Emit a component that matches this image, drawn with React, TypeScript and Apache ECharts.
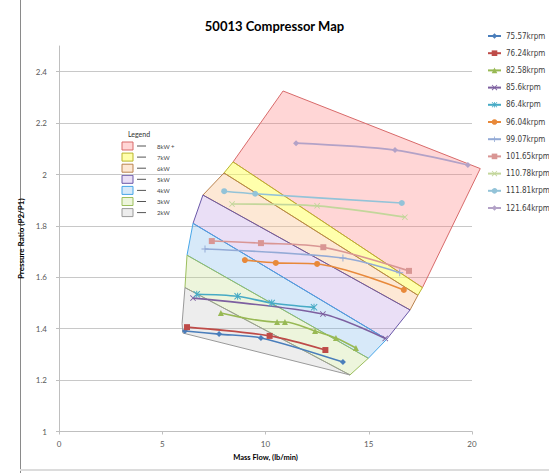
import React, { useEffect, useRef } from "react";
import * as echarts from "echarts";

// ---- Data ----
const seriesNames = [
  "75.57krpm", "76.24krpm", "82.58krpm", "85.6krpm", "86.4krpm", "96.04krpm",
  "99.07krpm", "101.65krpm", "110.78krpm", "111.81krpm", "121.64krpm",
];
const rpm75_57 = [[6.1, 1.391], [7.75, 1.379], [9.78, 1.364], [13.75, 1.27]];
const rpm76_24 = [[6.2, 1.406], [10.2, 1.372], [12.9, 1.317]];
const rpm82_58 = [[7.84, 1.461], [10.56, 1.426], [10.94, 1.426], [12.4, 1.391], [13.41, 1.364], [14.38, 1.325]];
const rpm85_6 = [[6.49, 1.519], [12.78, 1.457], [15.8, 1.362]];
const rpm86_4 = [[6.67, 1.534], [8.65, 1.526], [10.3, 1.5], [12.35, 1.483]];
const rpm96_04 = [[9.0, 1.667], [10.5, 1.656], [12.5, 1.652], [16.7, 1.551]];
const rpm99_07 = [[7.07, 1.71], [13.75, 1.675], [16.5, 1.618]];
const rpm101_65 = [[7.4, 1.741], [9.78, 1.733], [12.8, 1.717], [16.95, 1.625]];
const rpm110_78 = [[8.38, 1.885], [12.5, 1.878], [16.75, 1.834]];
const rpm111_81 = [[8.0, 1.935], [9.5, 1.925], [16.6, 1.889]];
const rpm121_64 = [[11.48, 2.122], [16.27, 2.095], [19.8, 2.037]];
const seriesData = [
  rpm75_57, rpm76_24, rpm82_58, rpm85_6, rpm86_4, rpm96_04,
  rpm99_07, rpm101_65, rpm110_78, rpm111_81, rpm121_64,
];

// power bands (polygon vertices in data units)
const bandLabels = ["8kW +", "7kW", "6kW", "5kW", "4kW", "3kW", "2kW"];
const band8 = [[10.85, 2.325], [20.4, 2.023], [17.6, 1.56], [8.43, 2.049]];
const band7 = [[8.43, 2.049], [17.6, 1.56], [17.38, 1.53], [7.99, 2.006]];
const band6 = [[7.99, 2.006], [17.38, 1.53], [17.0, 1.473], [6.97, 1.92]];
const band5 = [[6.97, 1.92], [17.0, 1.473], [15.87, 1.359], [6.49, 1.81]];
const band4 = [[6.49, 1.81], [15.87, 1.359], [14.98, 1.285], [6.2, 1.686]];
const band3 = [[6.2, 1.686], [14.98, 1.285], [14.09, 1.22], [6.1, 1.56]];
const band2 = [[6.1, 1.56], [14.09, 1.22], [6.0, 1.383], [5.96, 1.42]];
const bands = [band8, band7, band6, band5, band4, band3, band2];

// ---- Styles ----
const lineColors = [
  "#4a7ebb", "#be4b48", "#98b954", "#7d60a0", "#46aac5", "#e8893a",
  "#93aad6", "#d99694", "#c3d69b", "#93c3d8", "#b3a2c7",
];
const X_SYM = "path://M0,1L1,0L5,4L9,0L10,1L6,5L10,9L9,10L5,6L1,10L0,9L4,5Z";
const PLUS_SYM = "path://M4.3,0H5.7V4.3H10V5.7H5.7V10H4.3V5.7H0V4.3H4.3Z";
const STAR_SYM =
  "path://M0,1L1,0L5,4L9,0L10,1L6,5L10,9L9,10L5,6L1,10L0,9L4,5Z M4.3,0H5.7V10H4.3Z";
const symbols = [
  "diamond", "rect", "triangle", X_SYM, STAR_SYM, "circle",
  PLUS_SYM, "rect", X_SYM, "circle", "diamond",
];
const symbolSizes = [6, 6, 6, 6, 7, 6, 7, 6, 6, 6, 6];
const bandFills = [
  "rgba(255,120,120,0.30)",
  "rgba(255,255,90,0.50)",
  "rgba(250,195,145,0.38)",
  "rgba(185,150,225,0.30)",
  "rgba(110,175,235,0.28)",
  "rgba(190,220,130,0.28)",
  "rgba(185,185,185,0.25)",
];
const bandStrokes = ["#d86a6a", "#b9b52c", "#b9824e", "#6a58a8", "#47a6e8", "#9cbf5e", "#9a9a9a"];

const FONT = "Lato, 'Open Sans', sans-serif";
const NARROW = "'Liberation Sans Narrow', 'DejaVu Sans Condensed', Lato, sans-serif";

export default function App() {
  const ref = useRef<HTMLDivElement>(null);
  useEffect(() => {
    const chart = echarts.init(ref.current!, null, { renderer: "svg" });

    const bandSeries = bands.map((poly, i) => ({
      type: "custom",
      name: "band" + i,
      data: poly,
      clip: false,
      silent: true,
      z: 1,
      encode: { x: 0, y: 1 },
      renderItem: (params: any, api: any) => {
        if (params.dataIndex !== 0) return null;
        const pts = poly.map((p) => api.coord(p));
        return {
          type: "polygon",
          shape: { points: pts },
          style: { fill: bandFills[i], stroke: bandStrokes[i], lineWidth: 1 },
        };
      },
    }));

    const lineSeries = seriesNames.map((name, i) => ({
      type: "line",
      name,
      data: seriesData[i],
      smooth: 0.3,
      symbol: symbols[i],
      symbolSize: symbolSizes[i],
      showAllSymbol: true,
      z: 5,
      lineStyle: { color: lineColors[i], width: 1.6 },
      itemStyle: { color: lineColors[i] },
    }));

    // inner legend (graphic)
    const legendGraphics: any[] = [
      {
        type: "text",
        left: 128,
        top: 130,
        style: { text: "Legend", fill: "#333", font: `7px ${FONT}` },
      },
    ];
    bandLabels.forEach((lab, i) => {
      const cy = 146 + i * 11.1;
      legendGraphics.push({
        type: "rect",
        shape: { x: 122, y: cy - 4, width: 11, height: 8 },
        style: { fill: bandFills[i], stroke: bandStrokes[i], lineWidth: 1 },
      });
      legendGraphics.push({
        type: "line",
        shape: { x1: 137, y1: cy, x2: 146, y2: cy },
        style: { stroke: "#555", lineWidth: 1 },
      });
      legendGraphics.push({
        type: "text",
        x: 157,
        y: cy,
        style: { text: lab, fill: "#444", font: `6px ${FONT}`, verticalAlign: "middle" },
      });
    });
    // outer frame lines
    legendGraphics.push({
      type: "line",
      shape: { x1: 20.5, y1: 0, x2: 20.5, y2: 473 },
      style: { stroke: "#8a8a8a", lineWidth: 1 },
    });
    legendGraphics.push({
      type: "line",
      shape: { x1: 20, y1: 470, x2: 549, y2: 470 },
      style: { stroke: "#dcdcdc", lineWidth: 2 },
    });

    chart.setOption({
      animation: false,
      textStyle: { fontFamily: FONT },
      title: {
        text: "50013 Compressor Map",
        left: "center",
        top: 14,
        textStyle: { fontSize: 13, fontWeight: "bold", color: "#000", fontFamily: FONT },
      },
      legend: {
        data: seriesNames,
        orient: "vertical",
        left: 487,
        top: 31,
        itemWidth: 13,
        itemHeight: 7,
        itemGap: 7.2,
        padding: 0,
        textStyle: {
          fontSize: 8,
          color: "#404040",
          lineHeight: 10,
          fontFamily: NARROW,
        },
      },
      grid: { left: 59, right: 77, top: 46, bottom: 41.5 },
      xAxis: {
        type: "value",
        min: 0,
        max: 20,
        interval: 5,
        name: "Mass Flow, (lb/min)",
        nameLocation: "middle",
        nameGap: 22,
        nameTextStyle: { fontSize: 7.5, fontWeight: "bold", color: "#000" },
        axisLine: { lineStyle: { color: "#bfbfbf" } },
        axisTick: { show: true, length: 3, lineStyle: { color: "#bfbfbf" } },
        axisLabel: { fontSize: 8, color: "#595959", margin: 8 },
        splitLine: { show: false },
      },
      yAxis: {
        type: "value",
        min: 1,
        max: 2.5,
        interval: 0.2,
        name: "Pressure Ratio (P2/P1)",
        nameLocation: "middle",
        nameGap: 20,
        nameTextStyle: { fontSize: 8, fontWeight: "bold", color: "#000" },
        axisLine: { show: true, lineStyle: { color: "#bfbfbf" } },
        axisTick: { show: true, length: 3, lineStyle: { color: "#bfbfbf" } },
        axisLabel: { fontSize: 8, color: "#595959", margin: 12, showMaxLabel: false },
        splitLine: { show: true, showMaxLine: false, lineStyle: { color: "#c8c8c8", width: 1 } },
      },
      graphic: legendGraphics,
      series: [...bandSeries, ...lineSeries],
    });
    return () => chart.dispose();
  }, []);
  return (
    <div
      ref={ref}
      style={{ position: "fixed", left: 0, top: 0, width: 549, height: 473, background: "#fff" }}
    />
  );
}
